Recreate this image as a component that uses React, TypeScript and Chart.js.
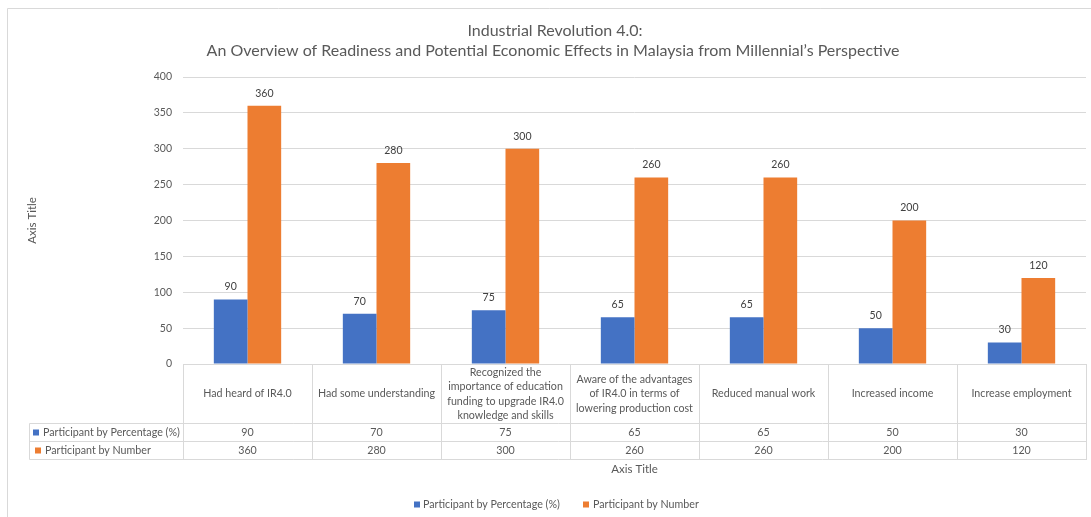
import React, { useEffect, useRef } from "react";
import { Chart, registerables } from "chart.js";

Chart.register(...registerables);

// ---------- data ----------
const categories: string[][] = [
  ["Had heard of IR4.0"],
  ["Had some understanding"],
  ["Recognized the", "importance of education", "funding to upgrade IR4.0", "knowledge and skills"],
  ["Aware of the advantages", "of IR4.0 in terms of", "lowering production cost"],
  ["Reduced manual work"],
  ["Increased income"],
  ["Increase employment"],
];
const percentValues = [90, 70, 75, 65, 65, 50, 30];
const numberValues = [360, 280, 300, 260, 260, 200, 120];
const seriesNames = ["Participant by Percentage (%)", "Participant by Number"];
const seriesColors = ["#4472C4", "#ED7D31"];
const yMin = 0;
const yMax = 400;
const yStep = 50;
const titleLines = [
  "Industrial Revolution 4.0:",
  "An Overview of Readiness and Potential Economic Effects in Malaysia from Millennial\u2019s Perspective",
];
const xAxisTitle = "Axis Title";
const yAxisTitle = "Axis Title";

const FONT = "Lato, 'Open Sans', sans-serif";
const TEXT = "#595959";
const GRID = "#D9D9D9";

const decorPlugin = {
  id: "decor",
  beforeDraw(chart: any) {
    const ctx = chart.ctx;
    ctx.save();
    ctx.fillStyle = "#ffffff";
    ctx.fillRect(0, 0, chart.width, chart.height);
    // outer frame
    ctx.strokeStyle = GRID;
    ctx.lineWidth = 1;
    ctx.beginPath();
    ctx.moveTo(7.5, chart.height);
    ctx.lineTo(7.5, 8.5);
    ctx.lineTo(chart.width, 8.5);
    ctx.stroke();
    // title
    ctx.fillStyle = TEXT;
    ctx.font = `16px ${FONT}`;
    ctx.textAlign = "center";
    ctx.textBaseline = "middle";
    ctx.fillText(titleLines[0], 555, 30.5);
    ctx.fillText(titleLines[1], 553, 51);
    ctx.restore();
  },
  afterDatasetsDraw(chart: any) {
    const ctx = chart.ctx;
    ctx.save();
    ctx.fillStyle = "#404040";
    ctx.font = `10.5px ${FONT}`;
    ctx.textAlign = "center";
    ctx.textBaseline = "middle";
    chart.data.datasets.forEach((ds: any, di: number) => {
      const meta = chart.getDatasetMeta(di);
      meta.data.forEach((el: any, i: number) => {
        ctx.fillText(String(ds.data[i]), el.x, el.y - 12.5);
      });
    });
    ctx.restore();
  },
  afterDraw(chart: any) {
    const ctx = chart.ctx;
    const area = chart.chartArea;
    const n = categories.length;
    const w = (area.right - area.left) / n;
    const top = Math.round(area.bottom) + 0.5;
    const hdrBottom = 423.5;
    const row1Bottom = 441.5;
    const row2Bottom = 459.5;
    const labelLeft = 29.5;
    ctx.save();
    ctx.strokeStyle = GRID;
    ctx.lineWidth = 1;
    ctx.beginPath();
    // horizontal lines
    ctx.moveTo(area.left, top);
    ctx.lineTo(area.right + 1, top);
    ctx.moveTo(labelLeft, hdrBottom);
    ctx.lineTo(area.right + 1, hdrBottom);
    ctx.moveTo(labelLeft, row1Bottom);
    ctx.lineTo(area.right + 1, row1Bottom);
    ctx.moveTo(labelLeft, row2Bottom);
    ctx.lineTo(area.right + 1, row2Bottom);
    // vertical lines
    for (let i = 0; i <= n; i++) {
      const x = Math.round(area.left + i * w) + 0.5;
      ctx.moveTo(x, top);
      ctx.lineTo(x, row2Bottom);
    }
    ctx.moveTo(labelLeft, hdrBottom);
    ctx.lineTo(labelLeft, row2Bottom);
    ctx.stroke();

    ctx.fillStyle = TEXT;
    ctx.font = `10.7px ${FONT}`;
    ctx.textAlign = "center";
    ctx.textBaseline = "middle";
    const lh = 14.3;
    const hdrMid = (top + hdrBottom) / 2;
    categories.forEach((lines, i) => {
      const cx = area.left + (i + 0.5) * w;
      const start = hdrMid - ((lines.length - 1) * lh) / 2;
      lines.forEach((ln, j) => ctx.fillText(ln, cx, start + j * lh));
      ctx.fillText(String(percentValues[i]), cx, (hdrBottom + row1Bottom) / 2);
      ctx.fillText(String(numberValues[i]), cx, (row1Bottom + row2Bottom) / 2);
    });

    // row labels with keys
    ctx.textAlign = "left";
    const r1 = (hdrBottom + row1Bottom) / 2;
    const r2 = (row1Bottom + row2Bottom) / 2;
    ctx.fillStyle = seriesColors[0];
    ctx.fillRect(33, r1 - 3, 6, 6);
    ctx.fillStyle = seriesColors[1];
    ctx.fillRect(35, r2 - 3, 6, 6);
    ctx.fillStyle = TEXT;
    ctx.fillText(seriesNames[0], 43, r1);
    ctx.fillText(seriesNames[1], 45, r2);

    // x axis title
    ctx.textAlign = "center";
    ctx.font = `11.5px ${FONT}`;
    ctx.fillText(xAxisTitle, (area.left + area.right) / 2, 469);

    // y axis title
    ctx.save();
    ctx.translate(32, (area.top + area.bottom) / 2);
    ctx.rotate(-Math.PI / 2);
    ctx.fillText(yAxisTitle, 0, 0);
    ctx.restore();

    // legend
    ctx.font = `10.7px ${FONT}`;
    ctx.textAlign = "left";
    const ly = 504.5;
    ctx.fillStyle = seriesColors[0];
    ctx.fillRect(414, ly - 3, 6, 6);
    ctx.fillStyle = TEXT;
    ctx.fillText(seriesNames[0], 423, ly);
    ctx.fillStyle = seriesColors[1];
    ctx.fillRect(583, ly - 3, 6, 6);
    ctx.fillStyle = TEXT;
    ctx.fillText(seriesNames[1], 593, ly);
    ctx.restore();
  },
};

export default function App() {
  const ref = useRef<HTMLCanvasElement | null>(null);
  useEffect(() => {
    if (!ref.current) return;
    const chart = new Chart(ref.current, {
      type: "bar",
      data: {
        labels: categories.map((c) => c.join(" ")),
        datasets: [
          {
            label: seriesNames[0],
            data: percentValues,
            backgroundColor: seriesColors[0],
            categoryPercentage: 0.522,
            barPercentage: 1,
          },
          {
            label: seriesNames[1],
            data: numberValues,
            backgroundColor: seriesColors[1],
            categoryPercentage: 0.522,
            barPercentage: 1,
          },
        ],
      },
      options: {
        responsive: false,
        animation: false,
        layout: { padding: { top: 77, right: 5, bottom: 0, left: 0 } },
        plugins: {
          legend: { display: false },
          title: { display: false },
          tooltip: { enabled: false },
        },
        scales: {
          x: {
            ticks: { display: false },
            grid: { display: false },
            border: { display: false },
            afterFit: (s: any) => {
              s.height = 153;
            },
          },
          y: {
            min: yMin,
            max: yMax,
            ticks: {
              stepSize: yStep,
              color: TEXT,
              font: { family: FONT, size: 10.5 },
              padding: 11,
            },
            grid: { color: GRID, drawTicks: false },
            border: { display: false },
            afterFit: (s: any) => {
              s.width = 183;
            },
          },
        },
      },
      plugins: [decorPlugin],
    });
    return () => chart.destroy();
  }, []);
  return (
    <div style={{ position: "fixed", left: 0, top: 0, width: 1091, height: 517, background: "#fff" }}>
      <canvas ref={ref} width={1091} height={517} style={{ display: "block" }} />
    </div>
  );
}
